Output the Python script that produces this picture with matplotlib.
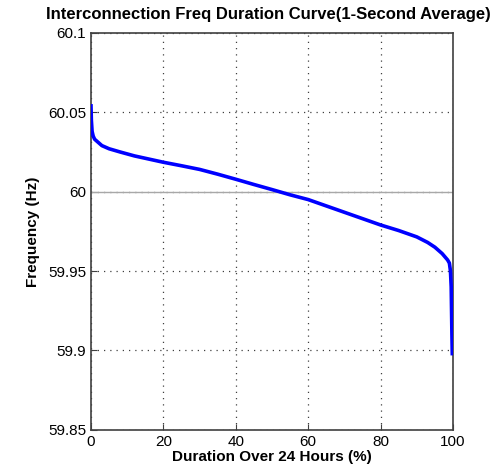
import numpy as np
import matplotlib.pyplot as plt

plt.rcParams['font.family'] = ['Liberation Sans', 'DejaVu Sans']

# duration curve
duration = [0, 0.1, 0.3, 0.6, 1, 2, 3, 5, 8, 12, 16, 20, 25, 30, 35, 40, 45, 50,
            55, 60, 65, 70, 75, 80, 85, 90, 93, 95, 97, 98.5, 99, 99.3,
            99.5, 99.6, 99.7, 99.8]
freq = [60.054, 60.045, 60.038, 60.035, 60.033, 60.031, 60.029, 60.027, 60.025,
        60.0225, 60.0205, 60.0185, 60.0163, 60.014, 60.011, 60.0078, 60.0045,
        60.0013, 59.998, 59.995, 59.991, 59.987, 59.983, 59.979, 59.9755,
        59.9715, 59.968, 59.965, 59.961, 59.957, 59.955, 59.950, 59.940,
        59.925, 59.910, 59.898]

xticks = [0, 20, 40, 60, 80, 100]
yticks = [59.85, 59.9, 59.95, 60, 60.05, 60.1]
ytick_labels = ['59.85', '59.9', '59.95', '60', '60.05', '60.1']

fig = plt.figure(figsize=(5.0, 4.76), dpi=100)
ax = fig.add_axes([0.182, 0.097, 0.724, 0.834])

ax.axhline(60, color='#a8a8a8', lw=1.0, zorder=2)
ax.plot(duration, freq, color='#0000ff', lw=2.6, zorder=3)

ax.set_xlim(0, 100)
ax.set_ylim(59.85, 60.1)
ax.set_xticks(xticks)
ax.set_yticks(yticks)
ax.set_yticklabels(ytick_labels)
ax.grid(True, linestyle=(0, (1, 4)), color='#404040', lw=0.9)
ax.tick_params(direction='in', length=4, labelsize=11, color='#404040')
for s in ax.spines.values():
    s.set_color('#404040')
    s.set_linewidth(1.2)

ax.set_title('Interconnection Freq Duration Curve(1-Second Average)',
             fontsize=12, fontweight='bold', pad=10, x=0.49)
ax.set_xlabel('Duration Over 24 Hours (%)', fontsize=11, fontweight='bold', labelpad=1)
ax.set_ylabel('Frequency (Hz)', fontsize=11, fontweight='bold', labelpad=6)

fig.savefig('out.png', dpi=100)
